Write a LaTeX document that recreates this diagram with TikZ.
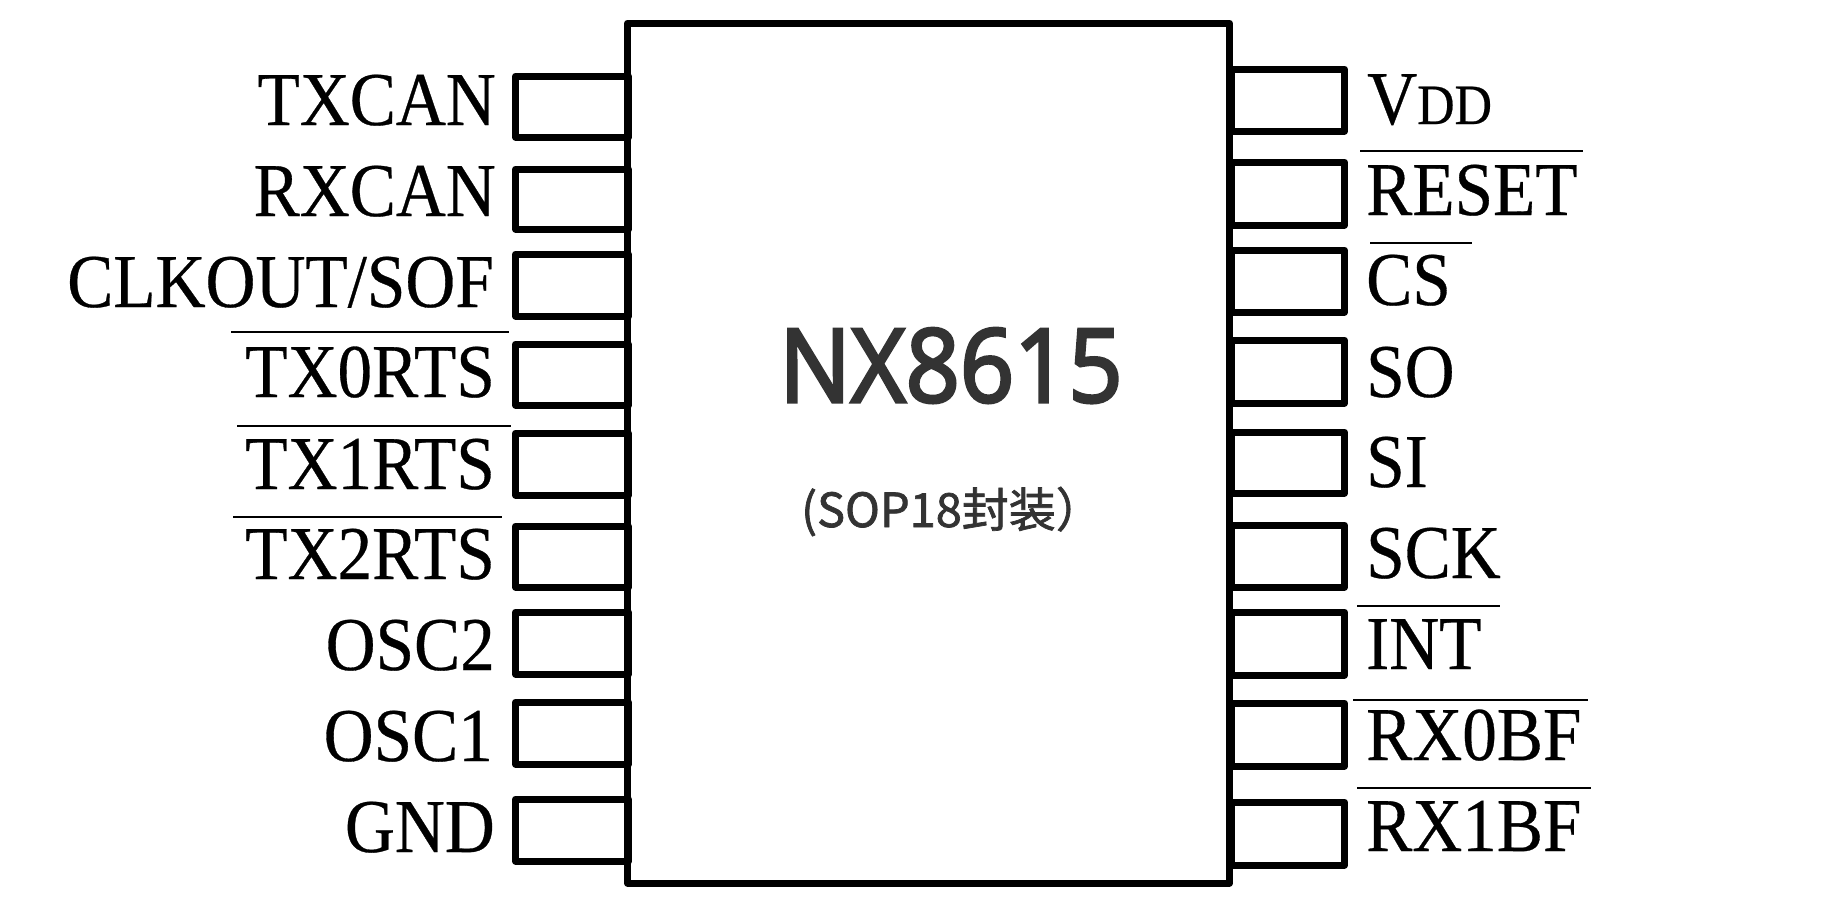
\documentclass[tikz,border=0pt]{standalone}
\usepackage{fontspec}
\setmainfont{Liberation Serif}
\newfontfamily\pinfont[FakeStretch=0.91,FakeBold=0.4]{Liberation Serif}
\newfontfamily\chipfont[FakeStretch=0.93,FakeBold=3]{Open Sans}
\newfontfamily\cjkfont[FakeBold=1.5]{Noto Sans CJK SC}
\usetikzlibrary{positioning}

\tikzset{
    chipbody/.style={draw,line width=7pt,line join=round,minimum width=602pt,minimum height=860pt,inner sep=0pt,outer sep=0pt},
    pinbox/.style={draw,line width=7pt,line join=round,minimum width=113pt,minimum height=#1,inner sep=0pt,outer sep=0pt},
    pinname/.style={inner sep=0pt,font=\pinfont\fontsize{76}{76}\selectfont},
    overbar/.style={line width=2pt}
}

\begin{document}
\begin{tikzpicture}[x=1pt,y=-1pt]
        \useasboundingbox (0,0) rectangle (1844,910);
        % left pins
        \node[pinbox=61pt] (txcanpin) at (572,106.5) {};
        \node[pinbox=60pt] (rxcanpin) at (572,199) {};
        \node[pinbox=62pt] (clkoutpin) at (572,285) {};
        \node[pinbox=61pt] (txzeropin) at (572,374.5) {};
        \node[pinbox=62pt] (txonepin) at (572,464) {};
        \node[pinbox=61pt] (txtwopin) at (572,556.5) {};
        \node[pinbox=62pt] (osctwopin) at (572,643) {};
        \node[pinbox=62pt] (desconepin) at (572,733) {};
        \node[pinbox=62pt] (gndpin) at (572,830) {};
        % right pins
        \node[pinbox=62pt] (vddpin) at (1288,100) {};
        \node[pinbox=63pt] (resetpin) at (1288,193.5) {};
        \node[pinbox=62pt] (cspin) at (1288,281) {};
        \node[pinbox=63pt] (sopin) at (1288,371.5) {};
        \node[pinbox=61pt] (sipin) at (1288,462.5) {};
        \node[pinbox=62pt] (sckpin) at (1288,556) {};
        \node[pinbox=63pt] (intpin) at (1288,643.5) {};
        \node[pinbox=63pt] (rxzeropin) at (1288,734.5) {};
        \node[pinbox=63pt] (rxonepin) at (1288,833.5) {};
        \node[chipbody] (chip) at (928.5,453) {};
        % left names
        \node[pinname,anchor=base east] (txcan) at (496,125) {TXCAN};
        \node[pinname,anchor=base east] (rxcan) at (496,216) {RXCAN};
        \node[pinname,anchor=base east] (clkout) at (494,307) {CLKOUT/SOF};
        \node[pinname,anchor=base east] (txzero) at (495,397) {TX0RTS};
        \node[pinname,anchor=base east] (txone) at (495,489) {TX1RTS};
        \node[pinname,anchor=base east] (txtwo) at (495,579) {TX2RTS};
        \node[pinname,anchor=base east] (osctwo) at (495,670) {OSC2};
        \node[pinname,anchor=base east] (oscone) at (493,761) {OSC1};
        \node[pinname,anchor=base east] (gnd) at (495,852) {GND};
        % right names
        \node[pinname,anchor=base west] (vdd) at (1367,124) {V{\fontsize{57}{57}\selectfont DD}};
        \node[pinname,anchor=base west] (reset) at (1366,215) {RESET};
        \node[pinname,anchor=base west] (cs) at (1366,305) {CS};
        \node[pinname,anchor=base west] (so) at (1366,397) {SO};
        \node[pinname,anchor=base west] (si) at (1366,487) {SI};
        \node[pinname,anchor=base west] (sck) at (1366,578) {SCK};
        \node[pinname,anchor=base west] (int) at (1366,669) {INT};
        \node[pinname,anchor=base west] (rxzero) at (1366,760) {RX0BF};
        \node[pinname,anchor=base west] (rxone) at (1366,851) {RX1BF};
        % bars over the active low names
        \draw[overbar] (231,332) -- (509,332);
        \draw[overbar] (237,426) -- (511,426);
        \draw[overbar] (233,517) -- (502,517);
        \draw[overbar] (1360,151) -- (1583,151);
        \draw[overbar] (1370,243) -- (1472,243);
        \draw[overbar] (1357,606) -- (1500,606);
        \draw[overbar] (1353,700) -- (1588,700);
        \draw[overbar] (1357,788) -- (1591,788);
        % chip text
        \node[inner sep=0pt,anchor=base,text=black!80,font=\chipfont\fontsize{102}{102}\selectfont] (partname) at (951,402) {NX8615};
        \node[inner sep=0pt,anchor=base,text=black!80,font=\cjkfont\fontsize{47}{47}\selectfont] (package) at (952,527) {(SOP18封装）};
\end{tikzpicture}
\end{document}
